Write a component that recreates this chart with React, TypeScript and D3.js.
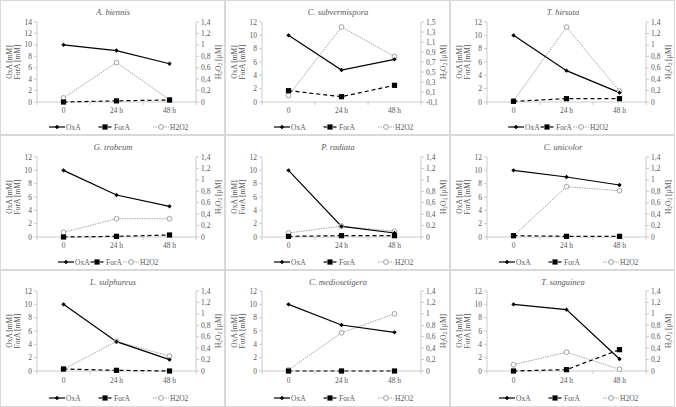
import React from "react";
import * as d3 from "d3";

const categories = ["0", "24 h", "48 h"];
const species = [
  "A. biennis", "C. subvermispora", "T. hirsuta",
  "G. trabeum", "P. radiata", "C. unicolor",
  "L. sulphureus", "C. mediosetigera", "T. sanguinea",
];
const oxA = [
  [10, 9.0, 6.7], [10, 4.8, 6.4], [10, 4.7, 1.4],
  [10, 6.3, 4.6], [10, 1.6, 0.6], [10, 9.0, 7.8],
  [10, 4.4, 1.7], [10, 6.9, 5.8], [10, 9.2, 1.8],
];
const forA = [
  [0, 0.2, 0.35], [1.7, 0.8, 2.5], [0.1, 0.5, 0.5],
  [0, 0.1, 0.3], [0.1, 0.2, 0.2], [0.2, 0.1, 0.1],
  [0.3, 0.1, 0.0], [0, 0, 0], [0, 0.2, 3.2],
];
const h2o2 = [
  [0.07, 0.69, 0.04], [0.03, 1.4, 0.81], [0.02, 1.31, 0.19],
  [0.08, 0.32, 0.32], [0.07, 0.19, 0.1], [0.02, 0.88, 0.81],
  [0.03, 0.52, 0.26], [0.02, 0.67, 1.0], [0.11, 0.33, 0.03],
];
const leftMax = [14, 12, 12, 12, 12, 12, 12, 12, 12];
const rightMin = [0, -0.1, 0, 0, 0, 0, 0, 0, 0];
const rightMax = [1.4, 1.5, 1.4, 1.4, 1.4, 1.4, 1.4, 1.4, 1.4];
const compactLegend = [false, false, true, true, false, false, false, false, false];

const FONT = "Liberation Serif, Times New Roman, serif";
const TXT = "#595959";
const AX = "#bfbfbf";

const fmt = (v: number) => {
  const r = Math.round(v * 10) / 10;
  return String(r).replace(".", ",");
};

function Panel({ i }: { i: number }) {
  const col = i % 3;
  const row = Math.floor(i / 3);
  const ox = col * 225;
  const oy = row * 135;
  const h = row === 2 ? 136 : 134;
  const top = row === 2 ? 21 : 22;
  const bottom = row === 2 ? 101 : 102;
  const left = 37;
  const right = 196;

  const x = d3.scaleBand<string>().domain(categories).range([left, right]);
  const cx = (c: string) => (x(c) as number) + x.bandwidth() / 2;
  const yL = d3.scaleLinear().domain([0, leftMax[i]]).range([bottom, top]);
  const yR = d3.scaleLinear().domain([rightMin[i], rightMax[i]]).range([bottom, top]);

  const leftTicks = d3.range(0, leftMax[i] + 0.001, 2);
  const rightTicks = d3.range(rightMin[i], rightMax[i] + 0.001, 0.2);

  const lineL = d3.line<number>().x((_, k) => cx(categories[k])).y((v) => yL(v));
  const lineR = d3.line<number>().x((_, k) => cx(categories[k])).y((v) => yR(v));

  const zeroY = rightMin[i] < 0 ? yL(0) : bottom;

  const legX = compactLegend[i] ? [58, 89, 123] : [49, 97, 153];
  const legY = row === 2 ? 128 : 127;
  const cy = (top + bottom) / 2;

  return (
    <g transform={`translate(${ox},${oy})`} style={{ fontFamily: FONT }}>
      <rect x={0.5} y={0.5} width={224} height={h} fill="white" stroke="#d9d9d9" strokeWidth={1} />
      <text x={113} y={15} textAnchor="middle" fontSize={8.5} fontStyle="italic" fill={TXT}>
        {species[i]}
      </text>
      <line x1={left} x2={left} y1={top} y2={bottom} stroke={AX} strokeWidth={0.8} />
      <line x1={right} x2={right} y1={top} y2={bottom} stroke={AX} strokeWidth={0.8} />
      <line x1={left} x2={right} y1={zeroY} y2={zeroY} stroke={AX} strokeWidth={0.8} />
      {leftTicks.map((t) => (
        <g key={"l" + t}>
          <line x1={left - 3} x2={left} y1={yL(t)} y2={yL(t)} stroke={AX} strokeWidth={0.8} />
          <text x={32} y={yL(t) + 2.5} textAnchor="end" fontSize={7.5} fill={TXT}>{t}</text>
        </g>
      ))}
      {rightTicks.map((t) => (
        <g key={"r" + t}>
          <line x1={right} x2={right + 3} y1={yR(t)} y2={yR(t)} stroke={AX} strokeWidth={0.8} />
          <text x={201} y={yR(t) + 2.5} textAnchor="start" fontSize={7.5} fill={TXT}>{fmt(t)}</text>
        </g>
      ))}
      {categories.map((c) => (
        <text key={c} x={cx(c)} y={113} textAnchor="middle" fontSize={7.5} fill={TXT}>{c}</text>
      ))}
      {[0, 1, 2, 3].map((k) => {
        const xx = left + k * x.bandwidth();
        return <line key={"xt" + k} x1={xx} x2={xx} y1={zeroY} y2={zeroY + 3} stroke={AX} strokeWidth={0.8} />;
      })}
      <text transform={`translate(12,${cy}) rotate(-90)`} textAnchor="middle" fontSize={7.5} fill={TXT}>OxA [mM]</text>
      <text transform={`translate(19.5,${cy}) rotate(-90)`} textAnchor="middle" fontSize={7.5} fill={TXT}>ForA [mM]</text>
      <text transform={`translate(220.5,${cy}) rotate(-90)`} textAnchor="middle" fontSize={7.5} fill={TXT}>
        H<tspan fontSize={5.5} dy={1.5}>2</tspan><tspan dy={-1.5}>O</tspan><tspan fontSize={5.5} dy={1.5}>2</tspan><tspan dy={-1.5}> [µM]</tspan>
      </text>
      <path d={lineR(h2o2[i]) || ""} fill="none" stroke="#8c8c8c" strokeWidth={0.8} strokeDasharray="1.5,1" />
      <path d={lineL(forA[i]) || ""} fill="none" stroke="#000" strokeWidth={1.2} strokeDasharray="4,3" />
      <path d={lineL(oxA[i]) || ""} fill="none" stroke="#000" strokeWidth={1.2} />
      {h2o2[i].map((v, k) => (
        <circle key={"h" + k} cx={cx(categories[k])} cy={yR(v)} r={2.4} fill="white" stroke="#8c8c8c" strokeWidth={0.8} />
      ))}
      {forA[i].map((v, k) => (
        <rect key={"f" + k} x={cx(categories[k]) - 2.6} y={yL(v) - 2.6} width={5.2} height={5.2} fill="#000" />
      ))}
      {oxA[i].map((v, k) => (
        <path key={"o" + k} transform={`translate(${cx(categories[k])},${yL(v)})`} d="M0,-2.2L2.2,0L0,2.2L-2.2,0Z" fill="#000" />
      ))}
      <g transform={`translate(0,${legY})`}>
        <line x1={legX[0]} x2={legX[0] + 16} y1={0} y2={0} stroke="#000" strokeWidth={1.2} />
        <path transform={`translate(${legX[0] + 8},0)`} d="M0,-2.2L2.2,0L0,2.2L-2.2,0Z" fill="#000" />
        <text x={legX[0] + 17} y={2.5} fontSize={7.5} fill={TXT}>OxA</text>
        <line x1={legX[1] + 1.5} x2={legX[1] + 5} y1={0} y2={0} stroke="#000" strokeWidth={1.2} />
        <line x1={legX[1] + 11} x2={legX[1] + 14.5} y1={0} y2={0} stroke="#000" strokeWidth={1.2} />
        <rect x={legX[1] + 5.4} y={-2.6} width={5.2} height={5.2} fill="#000" />
        <text x={legX[1] + 17} y={2.5} fontSize={7.5} fill={TXT}>ForA</text>
        <line x1={legX[2]} x2={legX[2] + 16} y1={0} y2={0} stroke="#8c8c8c" strokeWidth={0.8} strokeDasharray="1.5,1" />
        <circle cx={legX[2] + 8} cy={0} r={2.4} fill="white" stroke="#8c8c8c" strokeWidth={0.8} />
        <text x={legX[2] + 17} y={2.5} fontSize={7.5} fill={TXT}>H2O2</text>
      </g>
    </g>
  );
}

export default function App() {
  return (
    <svg width={676} height={407} style={{ position: "absolute", left: 0, top: 0, background: "white" }}>
      <rect x={0} y={0} width={676} height={407} fill="white" />
      {species.map((_, i) => (
        <Panel key={i} i={i} />
      ))}
    </svg>
  );
}
